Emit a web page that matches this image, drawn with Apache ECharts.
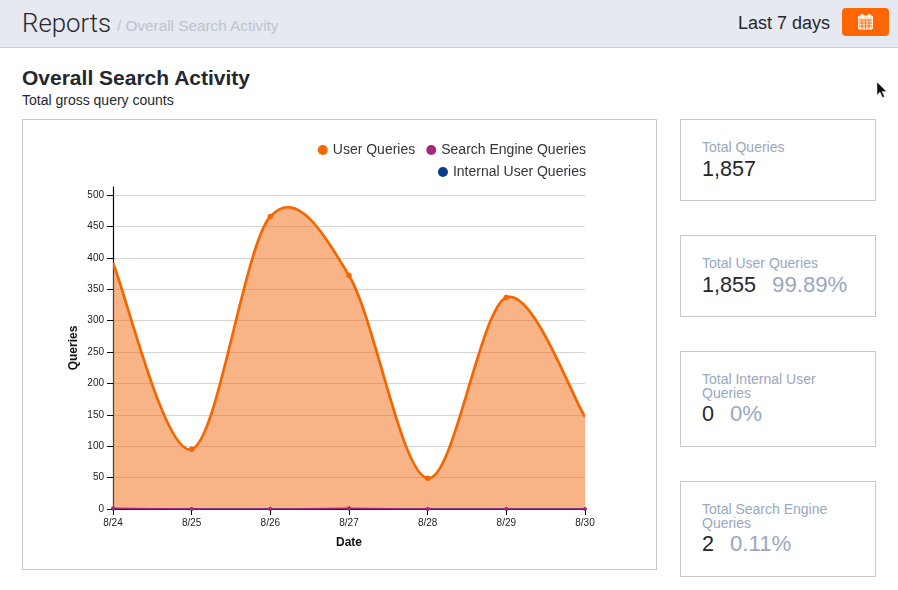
<!DOCTYPE html>
<html>
<head>
<meta charset="utf-8">
<title>Overall Search Activity</title>
<script src="https://cdn.jsdelivr.net/npm/echarts@6/dist/echarts.min.js"></script>
<style>
  html, body { margin: 0; padding: 0; background: #fff; overflow: hidden; }
  body { width: 898px; height: 590px; position: relative; font-family: "Liberation Sans", sans-serif; color: #25272e; }
  .abs { position: absolute; white-space: nowrap; }
  #header { position: absolute; left: 0; top: 0; width: 898px; height: 47px; background: #e6e9ef; border-bottom: 1px solid #c9cdd4; }
  #button { position: absolute; left: 842px; top: 8px; width: 47px; height: 28px; background: #ff6600; border-radius: 4px; }
  .box { position: absolute; box-sizing: border-box; border: 1px solid #c6c8cb; background: #fff; }
  .card-title { position: absolute; left: 21px; font-size: 14px; line-height: 14px; color: #98a8bf; white-space: nowrap; }
  .card-value { position: absolute; left: 21px; font-size: 21.6px; line-height: 24px; white-space: nowrap; }
  .card-value span { color: #98a8bf; margin-left: 10px; font-size: 22.2px; }
  #chart { position: absolute; left: 23px; top: 120px; width: 633px; height: 449px; }
</style>
</head>
<body>
<div id="header"></div>
<div class="abs" style="left:22px;top:7px;font-family:Roboto,sans-serif;font-size:25.8px;line-height:32px;font-weight:300">Reports</div>
<div class="abs" style="left:117px;top:17px;font-size:15.3px;line-height:18px;color:#bcc3cf">/ Overall Search Activity</div>
<div class="abs" style="left:738px;top:13px;font-size:18px;line-height:20px">Last 7 days</div>
<div id="button">
  <svg width="47" height="28" viewBox="0 0 47 28">
    <g fill="none" stroke="#fff" stroke-width="1">
      <rect x="16.5" y="8" width="14" height="13" rx="1" fill="#ffd9bf"/>
      <path d="M16.5 12h14M16.5 15h14M16.5 18h14M20 12v9M23.500 12v9M27 12v9" stroke="#ff6600" stroke-width=".8"/>
    </g>
    <rect x="19" y="6" width="2.500" height="4" rx="1" fill="#fff"/>
    <rect x="26" y="6" width="2.500" height="4" rx="1" fill="#fff"/>
  </svg>
</div>
<svg class="abs" style="left:876px;top:82px" width="14" height="18" viewBox="0 0 14 18">
  <path d="M1 0v13l3-3 2.500 5.500 2-1L6 9.500h4.500z" fill="#111" stroke="#ddd" stroke-width=".5"/>
</svg>

<div class="abs" style="left:22px;top:66px;font-size:21px;line-height:24px;font-weight:700">Overall Search Activity</div>
<div class="abs" style="left:22px;top:92px;font-size:14px;line-height:17px">Total gross query counts</div>

<div class="box" style="left:22px;top:119px;width:635px;height:451px"></div>
<div id="chart"></div>

<div class="box" style="left:680px;top:119px;width:196px;height:82px">
  <div class="card-title" style="top:20px">Total Queries</div>
  <div class="card-value" style="top:37px">1,857</div>
</div>
<div class="box" style="left:680px;top:235px;width:196px;height:82px">
  <div class="card-title" style="top:20px">Total User Queries</div>
  <div class="card-value" style="top:37px">1,855 <span>99.89%</span></div>
</div>
<div class="box" style="left:680px;top:351px;width:196px;height:96px">
  <div class="card-title" style="top:20px">Total Internal User</div>
  <div class="card-title" style="top:34px">Queries</div>
  <div class="card-value" style="top:50px">0 <span>0%</span></div>
</div>
<div class="box" style="left:680px;top:481px;width:196px;height:96px">
  <div class="card-title" style="top:20px">Total Search Engine</div>
  <div class="card-title" style="top:34px">Queries</div>
  <div class="card-value" style="top:50px">2 <span>0.11%</span></div>
</div>

<script>
const dates = ["8/24", "8/25", "8/26", "8/27", "8/28", "8/29", "8/30"];
const userQueries = [392, 95, 466, 372, 49, 337, 147];
const searchEngineQueries = [1, 0, 0, 1, 0, 0, 0];
const internalUserQueries = [0, 0, 0, 0, 0, 0, 0];

const ORANGE = "#f46600";
const PURPLE = "#a52a78";
const BLUE = "#0b3c8c";

// echarts smoothing clamps at peaks, the original curve is a catmull-rom that overshoots them.
// drawn once as a whole, control points worked out from the neighbours on the axis scale
function renderUserCurve(params, api) {
  if (params.dataIndex !== 0) return null;
  const last = userQueries.length - 1;
  const at = k => {
    const n = Math.max(0, Math.min(last, k));
    return api.coord([n, userQueries[n]]);
  };
  let curve = "M" + at(0);
  for (let i = 0; i < last; i++) {
    const p0 = at(i - 1), p1 = at(i), p2 = at(i + 1), p3 = at(i + 2);
    const c1 = [p1[0] + (p2[0] - p0[0]) / 6, p1[1] + (p2[1] - p0[1]) / 6];
    const c2 = [p2[0] - (p3[0] - p1[0]) / 6, p2[1] - (p3[1] - p1[1]) / 6];
    curve += "C" + c1 + " " + c2 + " " + p2;
  }
  const end = api.coord([last, 0]);
  const start = api.coord([0, 0]);
  return {
    type: "group",
    children: [
      {
        type: "path",
        shape: { pathData: curve + "L" + end + "L" + start + "Z" },
        style: { fill: "#f26a10", opacity: 0.5 }
      },
      {
        type: "path",
        shape: { pathData: curve },
        style: { fill: "none", stroke: ORANGE, lineWidth: 2.7 }
      }
    ]
  };
}

const legendText = { fontSize: 14, color: "#33353b", fontFamily: "Liberation Sans" };

const chart = echarts.init(document.getElementById("chart"), null, { renderer: "canvas" });
chart.setOption({
  animation: false,
  textStyle: { fontFamily: "Liberation Sans" },
  grid: { left: 90, right: 71, top: 67, bottom: 60 },
  legend: [
    {
      data: ["User Queries", "Search Engine Queries"],
      right: 65, top: 18, icon: "circle", itemWidth: 10, itemHeight: 10, itemGap: 11,
      textStyle: legendText
    },
    {
      data: ["Internal User Queries"],
      right: 65, top: 40, icon: "circle", itemWidth: 10, itemHeight: 10,
      textStyle: legendText
    }
  ],
  xAxis: {
    type: "category",
    data: dates,
    boundaryGap: false,
    name: "Date",
    nameLocation: "middle",
    nameGap: 28,
    nameMoveOverlap: false,
    nameTextStyle: { fontSize: 12, fontWeight: "bold", color: "#111" },
    axisLine: { lineStyle: { color: "#000", width: 1.2 } },
    axisTick: { length: 6, alignWithLabel: true, lineStyle: { color: "#000" } },
    axisLabel: { fontSize: 10, color: "#222", margin: 9, interval: 0, showMinLabel: true, showMaxLabel: true },
    splitLine: { show: false }
  },
  yAxis: {
    type: "value",
    min: 0,
    max: 513,
    interval: 50,
    name: "Queries",
    nameLocation: "middle",
    nameGap: 33,
    nameMoveOverlap: false,
    nameTextStyle: { fontSize: 12, fontWeight: "bold", color: "#111" },
    axisLine: { show: true, onZero: false, lineStyle: { color: "#000", width: 1.2 } },
    axisTick: { show: true, length: 6, lineStyle: { color: "#000" } },
    axisLabel: { fontSize: 10, color: "#222", margin: 9, showMaxLabel: false },
    splitLine: { show: true, showMaxLine: false, lineStyle: { color: "#d4d4d4", width: 1 } }
  },
  series: [
    {
      name: "User Queries curve",
      type: "custom",
      data: userQueries,
      renderItem: renderUserCurve,
      silent: true,
      clip: true,
      z: 2
    },
    {
      name: "User Queries",
      type: "line",
      data: userQueries,
      symbol: "circle",
      // the end markers are cut off by the plot edge in the original
      symbolSize: (v, p) => (p.dataIndex === 0 || p.dataIndex === userQueries.length - 1 ? 0 : 5.5),
      itemStyle: { color: ORANGE },
      lineStyle: { width: 0 },
      z: 3
    },
    {
      name: "Internal User Queries",
      type: "line",
      data: internalUserQueries,
      symbol: "circle",
      symbolSize: 3,
      itemStyle: { color: BLUE },
      lineStyle: { color: BLUE, width: 1.5 },
      z: 4
    },
    {
      name: "Search Engine Queries",
      type: "line",
      data: searchEngineQueries,
      smooth: 0.5,
      symbol: "circle",
      symbolSize: 4,
      itemStyle: { color: PURPLE },
      lineStyle: { color: PURPLE, width: 1.5 },
      z: 5
    }
  ]
});
</script>
</body>
</html>
